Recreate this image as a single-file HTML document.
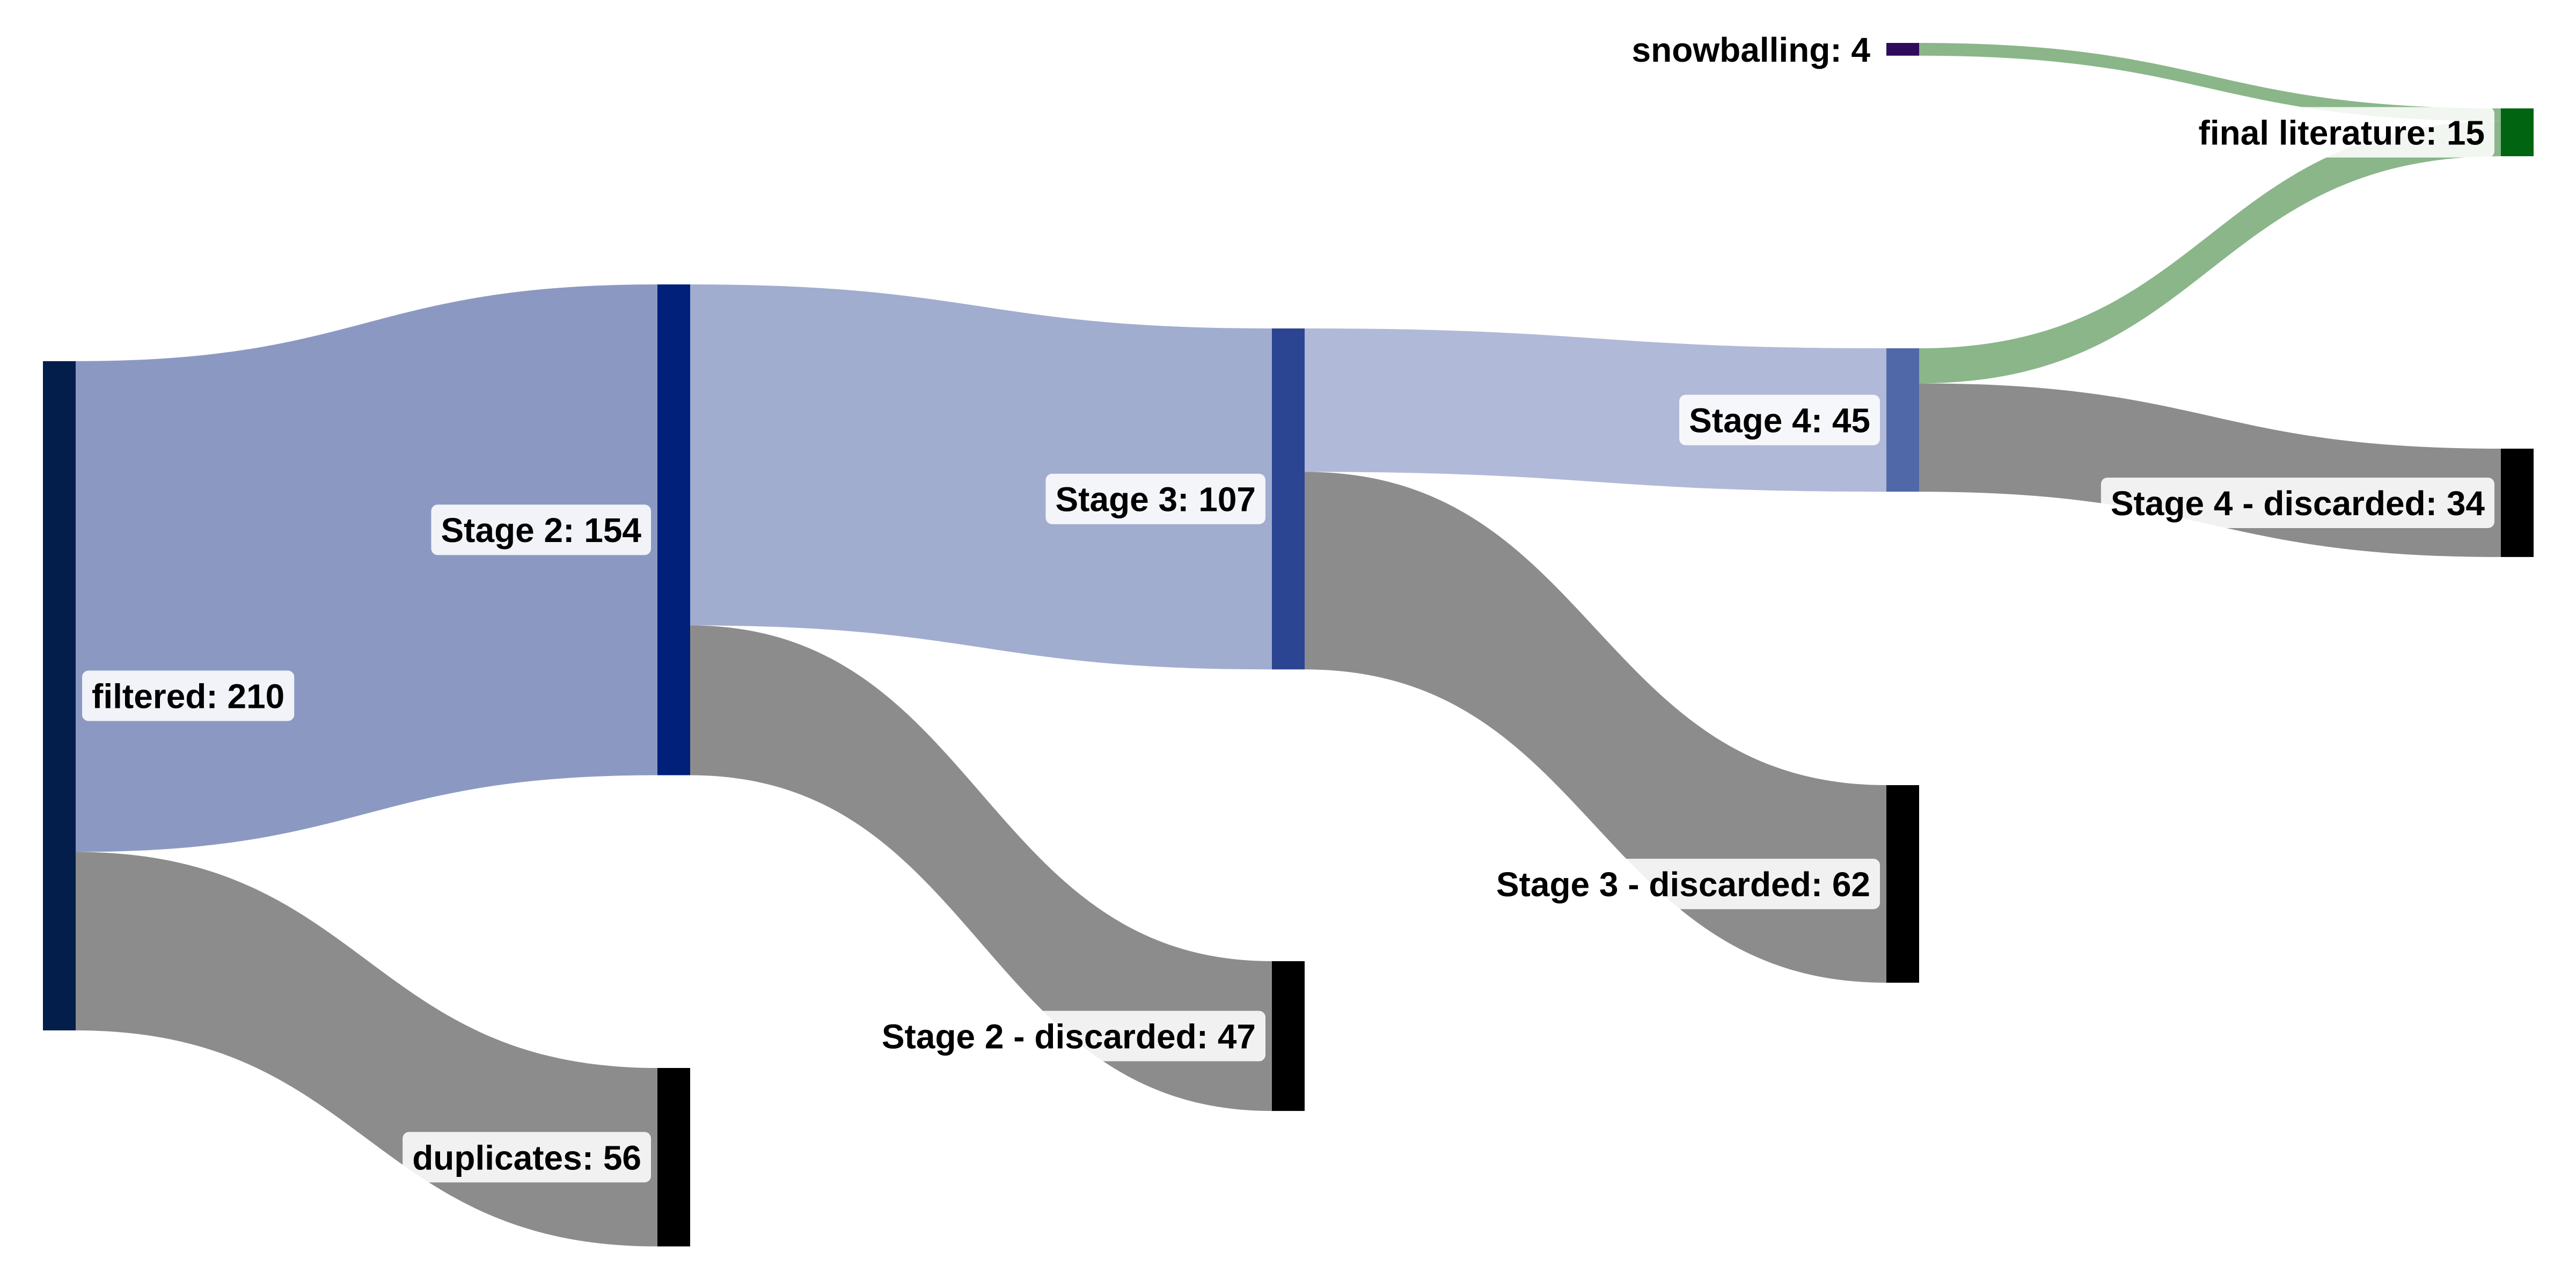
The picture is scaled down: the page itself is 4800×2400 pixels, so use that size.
<!DOCTYPE html>
<html><head><meta charset="utf-8">
<style>
html,body{margin:0;padding:0;background:#fff;}
svg{display:block;}
text{font-family:"Liberation Sans",Arial,sans-serif;font-weight:bold;}
</style></head>
<body>
<svg id="chart" width="4800" height="2400" viewBox="0 0 4800 2400" xmlns="http://www.w3.org/2000/svg">
<g id="links"></g>
<g id="nodes"></g>
<g id="labels"></g>
</svg>
<script>
// data
const nodeNames = ["filtered","Stage 2","duplicates","Stage 3","Stage 2 - discarded","Stage 4","Stage 3 - discarded","snowballing","final literature","Stage 4 - discarded"];
const nodeValues = [210,154,56,107,47,45,62,4,15,34];
const linkSources = [0,0,1,1,3,3,5,5,7];
const linkTargets = [1,2,3,4,5,6,8,9,8];
const linkValues = [154,56,107,47,45,62,11,34,4];
// styling / layout
const nodeColumn = [0,1,1,2,2,3,3,3,4,4];
const nodeTopPx = [673,530,1990,612,1791,649,1463,80,202,836];
const nodeColors = ["#031e4a","#00207a","#000000","#2c4592","#000000","#5168a8","#000000","#2f0b5c","#006411","#000000"];
const linkColors = ["#8b99c2","#8c8c8c","#a0adcf","#8c8c8c","#b0b9d7","#8c8c8c","#8ab68a","#8c8c8c","#8ab68a"];
const colX = c => 80 + c*1145;
const nodeW = 61;
const k = 1247/210; // px per unit
const h = v => v*k;
const NS="http://www.w3.org/2000/svg";
const gl=document.getElementById('links'), gn=document.getElementById('nodes'), gt=document.getElementById('labels');
const outOff = nodeNames.map(()=>0), inOff = nodeNames.map(()=>0);
const order=[0,1,2,3,4,5,8,6,7];
order.forEach(i=>{
  const s=linkSources[i], t=linkTargets[i], w=h(linkValues[i]);
  const x0=colX(nodeColumn[s])+nodeW, x1=colX(nodeColumn[t]);
  const y0=nodeTopPx[s]+outOff[s], y1=nodeTopPx[t]+inOff[t];
  outOff[s]+=w; inOff[t]+=w;
  const xm=(x0+x1)/2;
  const p=document.createElementNS(NS,'path');
  p.setAttribute('d',`M${x0},${y0} C${xm},${y0} ${xm},${y1} ${x1},${y1} L${x1},${y1+w} C${xm},${y1+w} ${xm},${y0+w} ${x0},${y0+w} Z`);
  p.setAttribute('fill',linkColors[i]);
  
  
  gl.appendChild(p);
});
nodeNames.forEach((n,i)=>{
  const x=colX(nodeColumn[i]), y=nodeTopPx[i], hh=h(nodeValues[i]);
  const r=document.createElementNS(NS,'rect');
  r.setAttribute('x',x);r.setAttribute('y',y);r.setAttribute('width',nodeW);r.setAttribute('height',hh);
  r.setAttribute('fill',nodeColors[i]);
  
  
  gn.appendChild(r);
  const cy=y+hh/2;
  const g=document.createElementNS(NS,'g');
  
  
  gt.appendChild(g);
  const bg=document.createElementNS(NS,'rect');
  g.appendChild(bg);
  const t=document.createElementNS(NS,'text');
  t.textContent=n+': '+nodeValues[i];
  t.setAttribute('font-size','64');
  t.setAttribute('fill','#000');
  t.setAttribute('y',cy+23);
  const right = i!==0;
  if(right){t.setAttribute('text-anchor','end');t.setAttribute('x',x-30);}
  else{t.setAttribute('x',x+nodeW+30);}
  g.appendChild(t);
  const tw=t.getComputedTextLength();
  const bx = right ? x-30-tw-18 : x+nodeW+12;
  bg.setAttribute('x',bx);bg.setAttribute('y',cy-47);
  bg.setAttribute('width',tw+36);bg.setAttribute('height',94);
  bg.setAttribute('rx',12);
  bg.setAttribute('fill', i===7 ? 'rgba(255,255,255,0)' : 'rgba(255,255,255,0.88)');
});
</script>
</body></html>
